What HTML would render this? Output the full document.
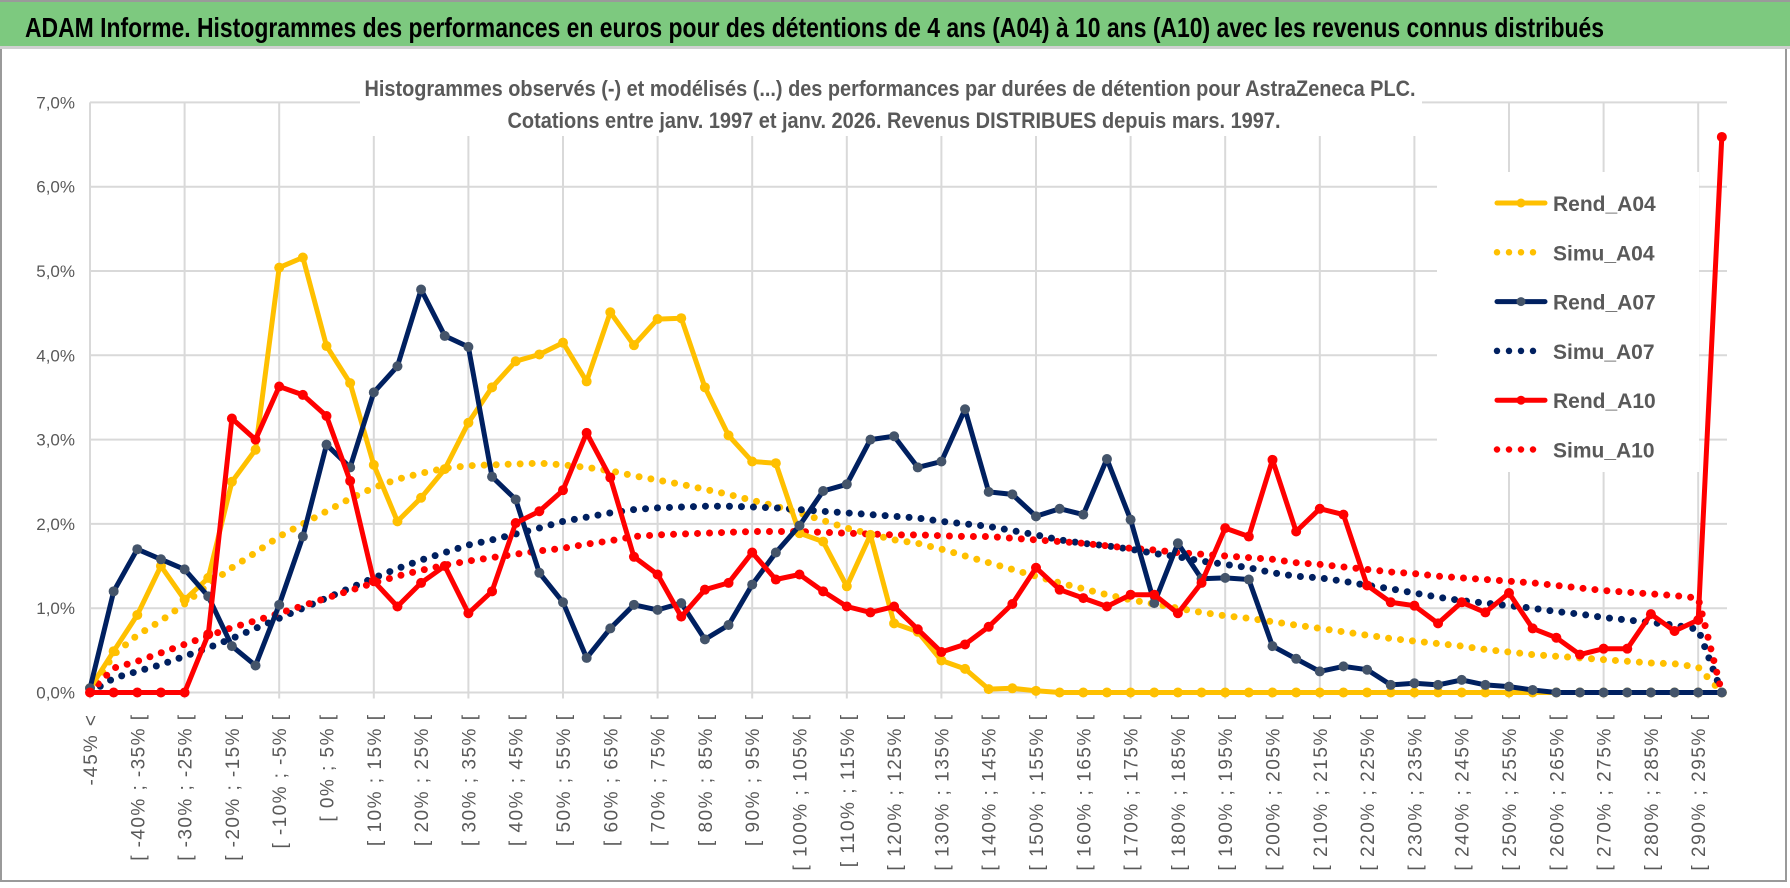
<!DOCTYPE html>
<html><head><meta charset="utf-8"><style>
html,body{margin:0;padding:0;background:#fff;}
svg{display:block;}
text{font-family:"Liberation Sans",sans-serif;}
</style></head><body>
<svg id="chart" width="1790" height="888" viewBox="0 0 1790 888" xmlns="http://www.w3.org/2000/svg">
<rect x="0" y="0" width="1790" height="888" fill="#fff"/>
<rect x="1" y="46" width="1785" height="835" fill="#fff" stroke="#9a9a9a" stroke-width="2"/>
<rect x="0" y="2" width="1790" height="44" fill="#7dc97f"/>
<line x1="0" y1="1" x2="1790" y2="1" stroke="#9a9a9a" stroke-width="2"/>
<line x1="0" y1="47.5" x2="1790" y2="47.5" stroke="#d0d0d0" stroke-width="3"/>
<text x="25" y="37" font-size="28" font-weight="bold" fill="#000" textLength="1579" lengthAdjust="spacingAndGlyphs">ADAM Informe. Histogrammes des performances en euros pour des détentions de 4 ans (A04) à 10 ans (A10) avec les revenus connus distribués</text>
<g id="grid"></g>
<g id="yaxis"></g>
<g id="xaxis"></g>
<rect x="360" y="66" width="1062" height="70" fill="#fff"/>
<text x="890" y="96" text-anchor="middle" font-size="22" font-weight="bold" fill="#595959" textLength="1051" lengthAdjust="spacingAndGlyphs">Histogrammes observés (-) et modélisés (...) des performances par durées de détention pour AstraZeneca PLC.</text>
<text x="894" y="128" text-anchor="middle" font-size="22" font-weight="bold" fill="#595959" textLength="773" lengthAdjust="spacingAndGlyphs">Cotations entre janv. 1997 et janv. 2026. Revenus DISTRIBUES depuis mars. 1997.</text>
<g id="series"></g>
<g id="legend"></g>
</svg>
<script>
const categoryStarts = [-45,-45,-40,-35,-30,-25,-20,-15,-10,-5,0,5,10,15,20,25,30,35,40,45,50,55,60,65,70,75,80,85,90,95,100,105,110,115,120,125,130,135,140,145,150,155,160,165,170,175,180,185,190,195,200,205,210,215,220,225,230,235,240,245,250,255,260,265,270,275,280,285,290,295];
const yTicks = [0,1,2,3,4,5,6,7];
const yTickLabels = ["0,0%","1,0%","2,0%","3,0%","4,0%","5,0%","6,0%","7,0%"];
const rendA04 = [0.05,0.49,0.92,1.5,1.1,1.36,2.5,2.88,5.04,5.16,4.11,3.67,2.7,2.03,2.31,2.65,3.2,3.62,3.93,4.01,4.15,3.69,4.51,4.12,4.43,4.44,3.62,3.05,2.74,2.72,1.89,1.79,1.26,1.87,0.82,0.72,0.38,0.28,0.04,0.05,0.02,0,0,0,0,0,0,0,0,0,0,0,0,0,0,0,0,0,0,0,0,0,0,0,0,0,0,0,0,0];
const simuA04 = [0,0.45,0.68,0.85,1.05,1.28,1.48,1.66,1.85,2.0,2.15,2.3,2.43,2.53,2.6,2.66,2.69,2.7,2.71,2.72,2.7,2.67,2.63,2.57,2.52,2.47,2.41,2.35,2.28,2.21,2.13,2.04,1.95,1.88,1.81,1.77,1.7,1.62,1.54,1.46,1.38,1.3,1.23,1.16,1.1,1.05,1.0,0.95,0.91,0.88,0.84,0.8,0.76,0.72,0.68,0.64,0.61,0.58,0.55,0.51,0.48,0.45,0.43,0.41,0.39,0.37,0.35,0.34,0.3,0];
const rendA07 = [0.05,1.2,1.7,1.58,1.46,1.14,0.55,0.32,1.04,1.85,2.94,2.67,3.56,3.87,4.78,4.23,4.1,2.56,2.29,1.42,1.07,0.41,0.76,1.04,0.98,1.06,0.63,0.8,1.28,1.66,1.98,2.39,2.47,3.0,3.04,2.67,2.74,3.36,2.38,2.35,2.09,2.18,2.11,2.77,2.05,1.06,1.77,1.35,1.36,1.34,0.55,0.4,0.25,0.31,0.27,0.09,0.11,0.09,0.15,0.09,0.07,0.03,0,0,0,0,0,0,0,0];
const simuA07 = [0,0.17,0.25,0.33,0.43,0.53,0.64,0.76,0.88,1.0,1.12,1.24,1.36,1.47,1.57,1.66,1.75,1.81,1.88,1.95,2.03,2.08,2.13,2.17,2.19,2.2,2.21,2.21,2.2,2.19,2.17,2.15,2.13,2.11,2.09,2.07,2.03,2.0,1.97,1.92,1.87,1.81,1.77,1.74,1.7,1.65,1.61,1.56,1.52,1.48,1.42,1.38,1.36,1.32,1.27,1.23,1.18,1.13,1.09,1.06,1.03,1.0,0.96,0.93,0.89,0.86,0.83,0.8,0.75,0];
const rendA10 = [0,0,0,0,0,0.69,3.25,3.0,3.63,3.53,3.28,2.51,1.32,1.02,1.3,1.5,0.94,1.2,2.01,2.15,2.4,3.08,2.55,1.61,1.4,0.9,1.22,1.3,1.66,1.34,1.4,1.2,1.02,0.95,1.02,0.75,0.48,0.57,0.78,1.05,1.48,1.22,1.12,1.02,1.16,1.16,0.94,1.3,1.95,1.85,2.76,1.91,2.18,2.11,1.27,1.07,1.03,0.82,1.07,0.95,1.18,0.76,0.65,0.45,0.52,0.52,0.93,0.73,0.86,6.59];
const simuA10 = [0,0.29,0.37,0.47,0.57,0.67,0.77,0.85,0.94,1.03,1.12,1.21,1.3,1.38,1.45,1.51,1.56,1.6,1.64,1.68,1.71,1.76,1.8,1.85,1.87,1.88,1.89,1.9,1.91,1.91,1.91,1.9,1.89,1.88,1.87,1.87,1.86,1.85,1.85,1.83,1.81,1.79,1.77,1.74,1.71,1.69,1.66,1.64,1.62,1.6,1.58,1.54,1.52,1.49,1.46,1.43,1.41,1.38,1.36,1.34,1.32,1.3,1.27,1.24,1.21,1.19,1.17,1.15,1.12,0];

const NS = "http://www.w3.org/2000/svg";
const X0 = 90, DX = 23.65, Y0 = 692.5, PPU = 84.3;
function xs(i){ return X0 + DX * i; }
function ys(v){ return Y0 - v * PPU; }
function mk(tag, attrs, parent){ const e = document.createElementNS(NS, tag); for (const k in attrs) e.setAttribute(k, attrs[k]); parent.appendChild(e); return e; }
function label(i){ if (i === 0) return "-45% <"; const lo = categoryStarts[i]; return "[ " + lo + "% ; " + (lo + 5) + "% ["; }

const grid = document.getElementById('grid');
const xRight = 1727;
yTicks.forEach(v => {
  const l = mk('line', {x1: X0, x2: xRight, y1: ys(v), y2: ys(v), stroke: '#d9d9d9', 'stroke-width': 2}, grid);
  
  
});
for (let i = 0; i < categoryStarts.length; i += 4) {
  const l = mk('line', {x1: xs(i), x2: xs(i), y1: ys(7), y2: Y0 + 6, stroke: '#d9d9d9', 'stroke-width': 2}, grid);
  
  
}
const yaxis = document.getElementById('yaxis');
yTicks.forEach((v, k) => {
  const t = mk('text', {x: 75, y: ys(v) + 6, 'text-anchor': 'end', 'font-size': 17, fill: '#595959'}, yaxis);
  t.textContent = yTickLabels[k];
  
  
});
const xaxis = document.getElementById('xaxis');
for (let i = 0; i < categoryStarts.length; i += 2) {
  const x = xs(i) + 7, y = 715;
  const t = mk('text', {x: x, y: y, 'text-anchor': 'end', 'font-size': 19, fill: '#595959', transform: 'rotate(-90 ' + x + ' ' + y + ')'}, xaxis);
  t.textContent = label(i);
  
  
  const w = t.getComputedTextLength();
  if (w > 0) { t.setAttribute('textLength', (w * 1.16).toFixed(1)); t.setAttribute('lengthAdjust', 'spacing'); }
}

const series = document.getElementById('series');
function pts(arr){ return arr.map((v, i) => xs(i).toFixed(1) + ',' + ys(v).toFixed(1)).join(' '); }
function simu(arr, color, name){
  const p = mk('polyline', {points: pts(arr), fill: 'none', stroke: color, 'stroke-width': 7, 'stroke-linecap': 'round', 'stroke-dasharray': '0 12'}, series);
  
  
}
function rend(arr, color, marker, name){
  const g = mk('g', {}, series);
  
  
  mk('polyline', {points: pts(arr), fill: 'none', stroke: color, 'stroke-width': 5, 'stroke-linejoin': 'round'}, g);
  arr.forEach((v, i) => {
    const c = mk('circle', {cx: xs(i), cy: ys(v), r: 5, fill: marker}, g);
    
    
  });
}
simu(simuA04, '#ffc000', 'simu-a04-line');
simu(simuA07, '#002060', 'simu-a07-line');
simu(simuA10, '#ff0000', 'simu-a10-line');
rend(rendA04, '#ffc000', '#ffc000', 'rend-a04-line');
rend(rendA07, '#002060', '#44546a', 'rend-a07-line');
rend(rendA10, '#ff0000', '#ff0000', 'rend-a10-line');

const legend = document.getElementById('legend');
mk('rect', {x: 1437, y: 172, width: 262, height: 300, fill: '#fff'}, legend);
const legNames = ['Rend_A04','Simu_A04','Rend_A07','Simu_A07','Rend_A10','Simu_A10'];
const legColors = ['#ffc000','#ffc000','#002060','#002060','#ff0000','#ff0000'];
const legMarkers = ['#ffc000',null,'#44546a',null,'#ff0000',null];
legNames.forEach((n, k) => {
  const y = 203 + k * 49.3;
  const g = mk('g', {}, legend);
  
  
  if (legMarkers[k]) {
    mk('line', {x1: 1497, x2: 1545, y1: y, y2: y, stroke: legColors[k], 'stroke-width': 5, 'stroke-linecap': 'round'}, g);
    mk('circle', {cx: 1521, cy: y, r: 4.5, fill: legMarkers[k]}, g);
  } else {
    mk('line', {x1: 1497, x2: 1545, y1: y, y2: y, stroke: legColors[k], 'stroke-width': 6.5, 'stroke-linecap': 'round', 'stroke-dasharray': '0 12'}, g);
  }
  const t = mk('text', {x: 1553, y: y + 8, 'font-size': 21, 'font-weight': 'bold', fill: '#595959'}, g);
  t.textContent = n;
});
</script>
</body></html>
